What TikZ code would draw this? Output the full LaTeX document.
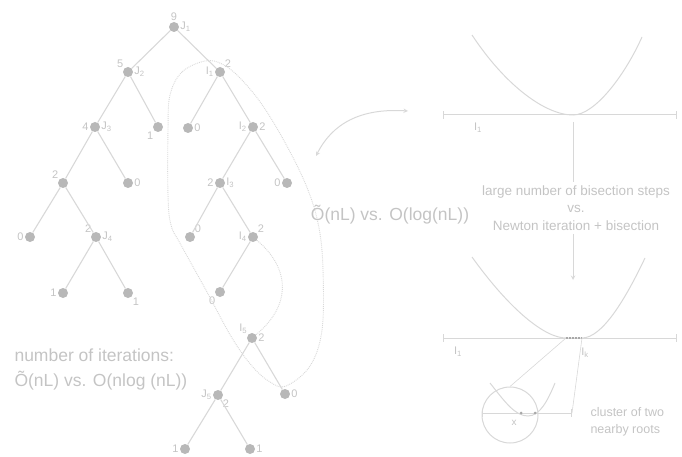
\documentclass[tikz,border=0pt]{standalone}
\usepackage{fontspec}
\setmainfont{Liberation Sans}
\definecolor{linegray}{HTML}{D8D8D8}
\definecolor{dotgray}{HTML}{B8B8B8}
\definecolor{textgray}{HTML}{C4C4C4}
\definecolor{markgray}{HTML}{A8A8A8}
\newcommand{\lab}[2]{#1\textsubscript{#2}}
\tikzset{
  dot/.style={circle, fill=dotgray, inner sep=0pt, minimum size=10pt},
  edge/.style={draw=linegray, line width=1.1pt},
  hull/.style={draw=linegray, line width=0.9pt, densely dotted},
  link/.style={draw=linegray, line width=1pt},
  bigtxt/.style={text=textgray, font=\fontsize{17.5}{22}\selectfont},
  midtxt/.style={text=textgray, font=\fontsize{13.5}{17.5}\selectfont, align=center},
  every label/.style={text=textgray, font=\fontsize{11}{11}\selectfont, inner sep=1pt}
}
\begin{document}
\begin{tikzpicture}[x=1pt, y=-1pt, >=stealth]
    \useasboundingbox (0,0) rectangle (682,457);

    % Baum der Iterationen
    \node[dot, label=above:9, label=right:\lab{J}{1}] (J1) at (174,27) {};
    \node[dot, label=above left:5, label=right:\lab{J}{2}] (J2) at (128,72) {};
    \node[dot, label=left:\lab{I}{1}, label=above right:2] (I1) at (220,72) {};
    \node[dot, label=left:4, label=right:\lab{J}{3}] (J3) at (95,127) {};
    \node[dot, label=below left:1] (a1) at (158,127) {};
    \node[dot, label=right:0] (a0) at (188,128) {};
    \node[dot, label=left:\lab{I}{2}, label=right:2] (I2) at (253,127) {};
    \node[dot, label=above left:2] (b2) at (63,183) {};
    \node[dot, label=right:0] (b0) at (128,183) {};
    \node[dot, label=left:2, label=right:\lab{I}{3}] (I3) at (220,183) {};
    \node[dot, label=left:0] (c0) at (287,183) {};
    \node[dot, label=left:0] (d0) at (30,237) {};
    \node[dot, label=above left:2, label=right:\lab{J}{4}] (J4) at (96,237) {};
    \node[dot, label=above right:0] (e0) at (190,237) {};
    \node[dot, label=left:\lab{I}{4}, label=above right:2] (I4) at (253,237) {};
    \node[dot, label=left:1] (f1) at (63,293) {};
    \node[dot, label=below right:1] (g1) at (128,293) {};
    \node[dot, label=below left:0] (h0) at (220,292) {};
    \node[dot, label=above left:\lab{I}{5}, label=right:2] (I5) at (252,338) {};
    \node[dot, label=left:\lab{J}{5}, label=below right:2] (J5) at (218,395) {};
    \node[dot, label=right:0] (k0) at (285,394) {};
    \node[dot, label=left:1] (m1) at (185,449) {};
    \node[dot, label=right:1] (n1) at (250,449) {};

    \foreach \a/\b in {J1/J2, J1/I1, J2/J3, J2/a1, I1/a0, I1/I2, J3/b2, J3/b0,
        I2/I3, I2/c0, b2/d0, b2/J4, I3/e0, I3/I4, J4/f1, J4/g1, I4/h0,
        I5/J5, I5/k0, J5/m1, J5/n1}
        \draw[edge] (\a) -- (\b);

    % uebersprungene Schritte
    \draw[hull] (I4) .. controls (290,268) and (292,305) .. (I5);
    \draw[hull] plot[smooth cycle, tension=0.6] coordinates {(205,61) (182,72) (170,95)
        (168,130) (168,195) (171,225) (181,245) (207,292) (232,338) (252,366)
        (270,382) (286,386) (310,366) (322,330) (323,270) (319,228) (308,190)
        (288,148) (263,106) (240,78) (222,64)};

    % Texte
    \node[bigtxt] (cmpR) at (390,215) {Õ(nL) vs. O(log(nL))};
    \node[bigtxt, anchor=west] (iter) at (11,355) {number of iterations:};
    \node[bigtxt, anchor=west] (cmpL) at (11,381) {Õ(nL) vs. O(nlog (nL))};

    % Doppelpfeil
    \coordinate (arrL) at (316,156);
    \coordinate (arrR) at (408,111);
    \draw[link, <->] (arrL) .. controls (332,124) and (360,108) .. (arrR);

    % oberer Graph
    \coordinate (ax1L) at (443,115);
    \coordinate (ax1R) at (677,115);
    \coordinate (tan1) at (573,115);
    \draw[link, |-|] (ax1L) -- (ax1R);
    \draw[link] (472,35) .. controls (505,85) and (545,115) .. (tan1)
        .. controls (595,115) and (625,75) .. (642,37);
    \node[text=textgray, font=\fontsize{11}{11}\selectfont] (lI1a) at (478,128) {\lab{I}{1}};

    \node[midtxt] (cmpM) at (576,208) {large number of bisection steps\\vs.\\Newton iteration + bisection};
    \draw[link] ([yshift=-7pt]tan1) -- (tan1 |- cmpM.north);
    \coordinate (tan2top) at (573,280);
    \draw[link, ->] (tan1 |- cmpM.south) -- (tan2top);

    % unterer Graph
    \coordinate (ax2L) at (443,338);
    \coordinate (ax2R) at (677,338);
    \coordinate (hlL) at (566,338);
    \coordinate (hlR) at (582,338);
    \draw[link, |-|] (ax2L) -- (ax2R);
    \draw[link] (472,257) .. controls (510,310) and (545,338) .. (hlL) -- (hlR)
        .. controls (602,338) and (625,300) .. (645,258);
    \draw[draw=markgray, line width=2pt, densely dotted] (hlL) -- (hlR);
    \node[text=textgray, font=\fontsize{11}{11}\selectfont] (lI1b) at (458,352) {\lab{I}{1}};
    \node[text=textgray, font=\fontsize{11}{11}\selectfont] (lIk) at (585,353) {\lab{I}{k}};

    % Ausschnitt
    \node[circle, draw=linegray, line width=1pt, minimum size=56pt, inner sep=0pt] (lens) at (510,415) {};
    \coordinate (sAxL) at (482,413);
    \coordinate (sAxR) at (572,413);
    \draw[link, |-|] (sAxL) -- (sAxR);
    \draw[link] (490,383) .. controls (505,402) and (515,416) .. (528,416)
        .. controls (540,416) and (548,400) .. (555,383);
    \draw[link, line width=0.6pt] (hlL) -- (lens.north);
    \draw[link, line width=0.6pt] (hlR) -- (sAxR);
    \node[circle, fill=markgray, inner sep=0pt, minimum size=3pt] (r1) at (521,413) {};
    \node[circle, fill=markgray, inner sep=0pt, minimum size=3pt] (r2) at (535,413) {};
    \node[text=textgray, font=\fontsize{10}{10}\selectfont] (xl) at (514,423) {x};
    \node[text=textgray, font=\fontsize{12.5}{17}\selectfont, align=left, anchor=west] (clu) at (587,422) {cluster of two\\nearby roots};
\end{tikzpicture}
\end{document}
